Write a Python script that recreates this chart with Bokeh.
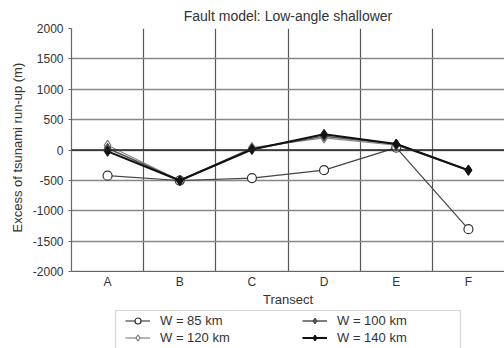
from bokeh.plotting import figure
from bokeh.models import Range1d, FixedTicker, Legend, LegendItem, Span, BoxAnnotation, Title
from bokeh.embed import file_html
from bokeh.resources import INLINE

transects = ["A", "B", "C", "D", "E", "F"]
w85 = [-420, -500, -460, -330, 40, -1300]
w120 = [80, -500, 40, 200, 80, -330]
w100 = [30, -500, 20, 230, 100, -330]
w140 = [-20, -500, 10, 260, 100, -330]
labels = ["W = 85 km", "W = 120 km", "W = 100 km", "W = 140 km"]
y_ticks = [-2000, -1500, -1000, -500, 0, 500, 1000, 1500, 2000]

FONT = "Liberation Sans"

# layout: plot area from y=27 (2000) to y=271 (-2000); frame extends to the bottom
TOP, AXIS_BOTTOM, H = 27, 271, 348
y_lo, y_hi = -2000, 2000
per_px = (y_hi - y_lo) / (AXIS_BOTTOM - TOP)
y_start = y_lo - (H - AXIS_BOTTOM) * per_px

p = figure(width=504, height=H, x_range=transects, y_range=Range1d(y_start, y_hi),
           output_backend="svg", toolbar_location=None,
           min_border_left=71, min_border_right=0, min_border_top=TOP, min_border_bottom=0,
           title="Fault model: Low-angle shallower")
p.x_range.range_padding = 0
p.title.align = "center"
p.title.text_font = FONT
p.title.text_font_size = "14px"
p.title.text_font_style = "normal"
p.title.text_color = "#333333"
p.outline_line_color = None

# axes
p.yaxis.ticker = FixedTicker(ticks=y_ticks)
p.yaxis.bounds = (y_lo, y_hi)
p.yaxis.major_label_overrides = {t: str(t) for t in y_ticks}
p.xaxis.axis_label = "Transect"
p.xaxis.fixed_location = y_lo
for ax in (p.xaxis[0], p.yaxis[0]):
    ax.axis_label_text_font = FONT
    ax.axis_label_text_font_size = "13px"
    ax.axis_label_text_font_style = "normal"
    ax.axis_label_text_color = "#333333"
    ax.major_label_text_font = FONT
    ax.major_label_text_font_size = "12px"
    ax.major_label_text_color = "#333333"
    ax.axis_line_color = "#666666"
    ax.axis_line_width = 1.2
    ax.major_tick_line_color = "#666666"
    ax.minor_tick_line_color = None
    ax.major_tick_in = 0
    ax.major_tick_out = 3
p.xaxis.major_tick_line_color = None
p.xaxis.major_label_standoff = 0
p.xaxis.axis_label_standoff = 0

# y axis title, centred on the -2000..2000 extent
ytitle = Title(text="Excess of tsunami run-up (m)", align="left",
               offset=116, text_font=FONT, text_font_size="13px",
               text_font_style="normal", text_color="#333333")
p.add_layout(ytitle, "left")

# grids
p.ygrid.ticker = FixedTicker(ticks=y_ticks)
p.ygrid.grid_line_color = "#888888"
p.ygrid.grid_line_width = 1.5
p.xgrid.ticker = FixedTicker(ticks=[1, 2, 3, 4, 5])
p.xgrid.grid_line_color = "#555555"
p.xgrid.grid_line_width = 1.2
# blank the area beneath the plot (holds the legend)
p.add_layout(BoxAnnotation(top=y_lo, fill_color="white", fill_alpha=1,
                           line_color=None, level="underlay"))
p.add_layout(Span(location=0, dimension="width", line_color="#222222", line_width=1.5))

l1 = p.line(transects, w85, line_color="#444444", line_width=1.2)
s1 = p.scatter(transects, w85, marker="circle", size=9, fill_color="white", line_color="#333333", line_width=1.2)
l2 = p.line(transects, w120, line_color="#888888", line_width=1.2)
s2 = p.scatter(transects, w120, marker="diamond", size=10, fill_color="white", line_color="#777777", line_width=1.2)
l3 = p.line(transects, w100, line_color="#555555", line_width=1.5)
s3 = p.scatter(transects, w100, marker="diamond", size=10, fill_color="#555555", line_color="#444444", line_width=1)
l4 = p.line(transects, w140, line_color="#111111", line_width=2)
s4 = p.scatter(transects, w140, marker="diamond", size=10, fill_color="#111111", line_color="#111111", line_width=1)

# legend frame
p.add_layout(BoxAnnotation(left=115, right=460, top=310, bottom=352,
                           left_units="canvas", right_units="canvas",
                           top_units="canvas", bottom_units="canvas",
                           fill_color="white", fill_alpha=1,
                           line_color="#777777", line_width=1.2, level="overlay"))

legend = Legend(items=[
    LegendItem(label=labels[0], renderers=[l1, s1]),
    LegendItem(label=labels[1], renderers=[l2, s2]),
    LegendItem(label=labels[2], renderers=[l3, s3]),
    LegendItem(label=labels[3], renderers=[l4, s4]),
], location=(54, 3), ncols=2)
legend.label_text_font = FONT
legend.label_text_font_size = "13px"
legend.label_text_color = "#333333"
legend.label_width = 140
legend.label_height = 15
legend.glyph_width = 25
legend.glyph_height = 15
legend.label_standoff = 10
legend.spacing = 2
legend.padding = 10
legend.margin = 0
legend.border_line_color = None
legend.background_fill_alpha = 0
p.add_layout(legend, "center")

open("out.html", "w").write(file_html(p, INLINE))
